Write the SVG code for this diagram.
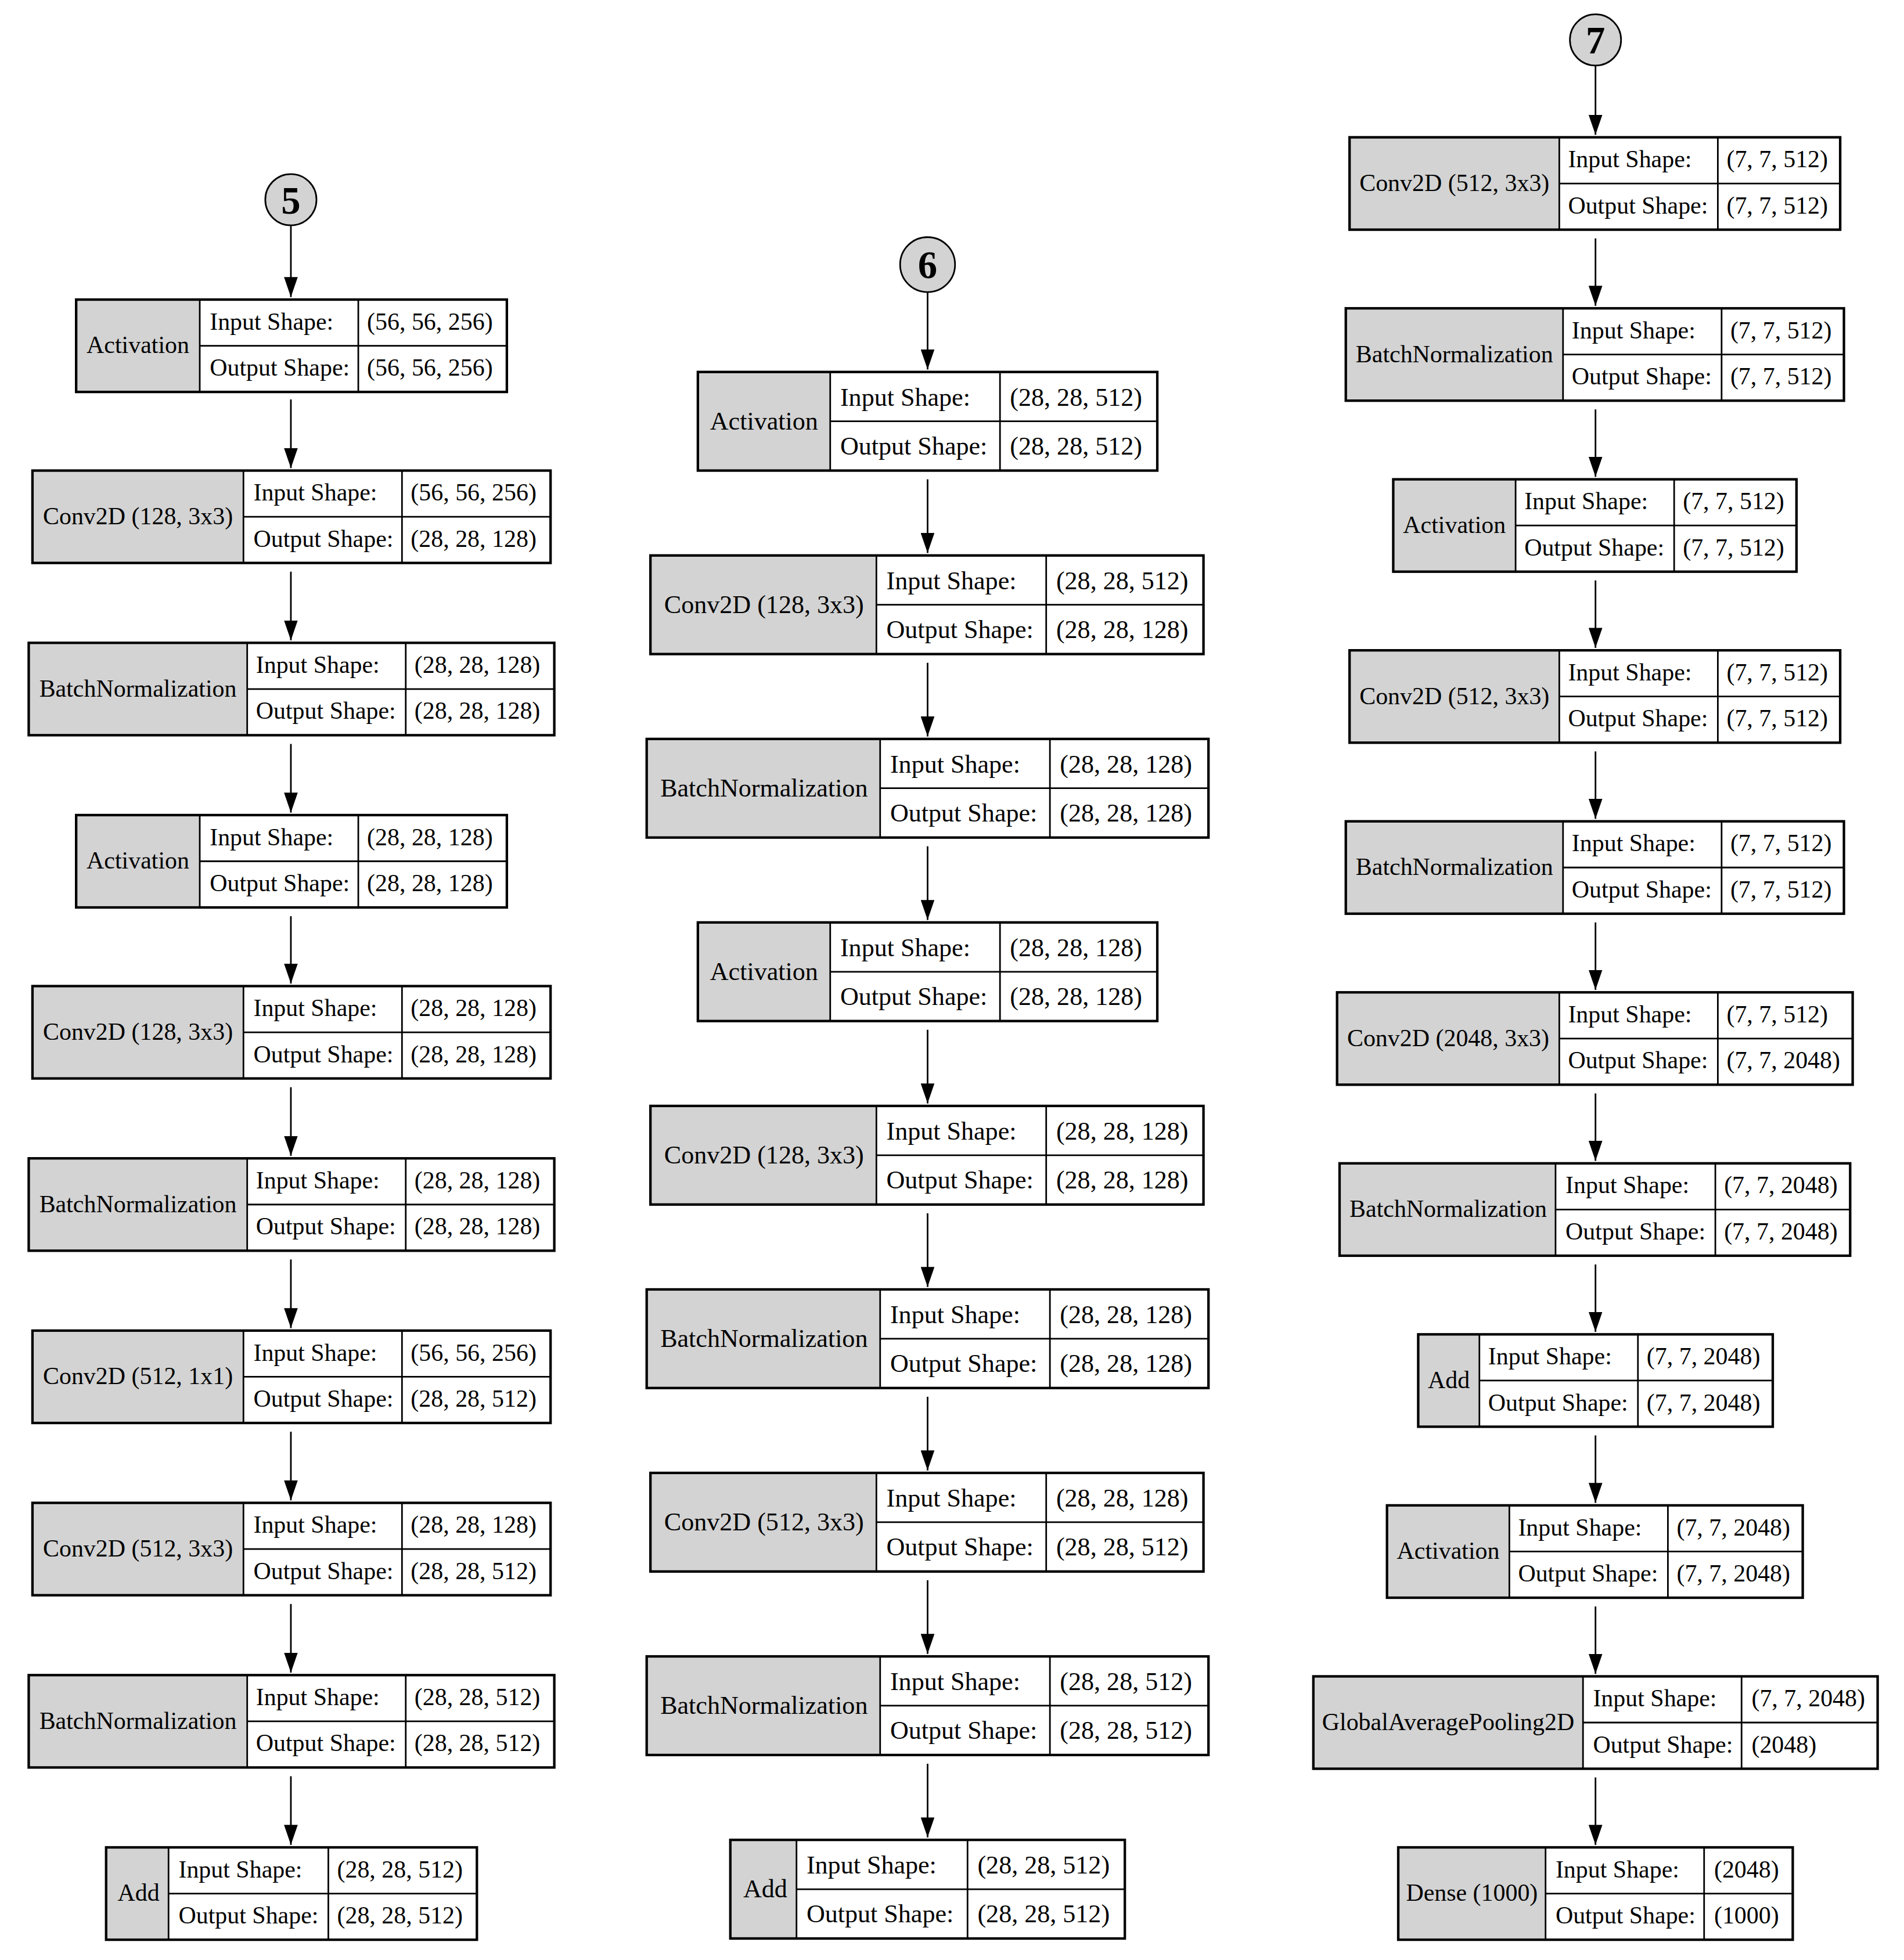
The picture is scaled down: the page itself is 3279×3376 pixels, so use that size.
<svg xmlns="http://www.w3.org/2000/svg" width="3279" height="3376" viewBox="0 0 3279 3376">
<style>
text{font-family:"Liberation Serif","Times New Roman",serif;fill:#000}
.a text{font-size:19.5px}.b text{font-size:20.5px}
.c{text-anchor:middle}
.g{fill:#d3d3d3}.w{fill:#fff}
.o{fill:none;stroke:#000;stroke-width:2}
.i{stroke:#000;stroke-width:1.3}
.e{stroke:#000;stroke-width:1.3;fill:none}
.n{fill:#d3d3d3;stroke:#000;stroke-width:1.3}
.a text.num,.b text.num{font-size:31px;font-weight:bold;text-anchor:middle}
</style>
<defs><marker id="ah" markerUnits="userSpaceOnUse" markerWidth="16" markerHeight="11" refX="16" refY="5.5" orient="auto" viewBox="0 0 16 11"><path d="M0,0 L16,5.5 L0,11 Z" fill="#000"/></marker></defs>
<rect width="3279" height="3376" fill="#fff"/>
<g transform="scale(2.15)">
<g id="connectors">
<line class="e" marker-end="url(#ah)" x1="233" y1="181" x2="233" y2="238"/>
<line class="e" marker-end="url(#ah)" x1="233" y1="320" x2="233" y2="375"/>
<line class="e" marker-end="url(#ah)" x1="233" y1="458" x2="233" y2="513"/>
<line class="e" marker-end="url(#ah)" x1="233" y1="596" x2="233" y2="651"/>
<line class="e" marker-end="url(#ah)" x1="233" y1="734" x2="233" y2="788"/>
<line class="e" marker-end="url(#ah)" x1="233" y1="871" x2="233" y2="926"/>
<line class="e" marker-end="url(#ah)" x1="233" y1="1009" x2="233" y2="1064"/>
<line class="e" marker-end="url(#ah)" x1="233" y1="1147" x2="233" y2="1202"/>
<line class="e" marker-end="url(#ah)" x1="233" y1="1285" x2="233" y2="1340"/>
<line class="e" marker-end="url(#ah)" x1="233" y1="1423" x2="233" y2="1478"/>
<line class="e" marker-end="url(#ah)" x1="743" y1="234" x2="743" y2="296"/>
<line class="e" marker-end="url(#ah)" x1="743" y1="384" x2="743" y2="443"/>
<line class="e" marker-end="url(#ah)" x1="743" y1="531" x2="743" y2="590"/>
<line class="e" marker-end="url(#ah)" x1="743" y1="678" x2="743" y2="737"/>
<line class="e" marker-end="url(#ah)" x1="743" y1="825" x2="743" y2="884"/>
<line class="e" marker-end="url(#ah)" x1="743" y1="972" x2="743" y2="1031"/>
<line class="e" marker-end="url(#ah)" x1="743" y1="1119" x2="743" y2="1178"/>
<line class="e" marker-end="url(#ah)" x1="743" y1="1266" x2="743" y2="1325"/>
<line class="e" marker-end="url(#ah)" x1="743" y1="1413" x2="743" y2="1472"/>
<line class="e" marker-end="url(#ah)" x1="1278" y1="53" x2="1278" y2="108"/>
<line class="e" marker-end="url(#ah)" x1="1278" y1="191" x2="1278" y2="245"/>
<line class="e" marker-end="url(#ah)" x1="1278" y1="328" x2="1278" y2="382"/>
<line class="e" marker-end="url(#ah)" x1="1278" y1="465" x2="1278" y2="519"/>
<line class="e" marker-end="url(#ah)" x1="1278" y1="602" x2="1278" y2="656"/>
<line class="e" marker-end="url(#ah)" x1="1278" y1="739" x2="1278" y2="793"/>
<line class="e" marker-end="url(#ah)" x1="1278" y1="876" x2="1278" y2="930"/>
<line class="e" marker-end="url(#ah)" x1="1278" y1="1013" x2="1278" y2="1067"/>
<line class="e" marker-end="url(#ah)" x1="1278" y1="1150" x2="1278" y2="1204"/>
<line class="e" marker-end="url(#ah)" x1="1278" y1="1287" x2="1278" y2="1341"/>
<line class="e" marker-end="url(#ah)" x1="1278" y1="1424" x2="1278" y2="1478"/>
</g>

<g class="a">
<g id="n5"><circle class="n" cx="233" cy="160" r="20.5"/><text class="num" x="233" y="171">5</text></g>
<g id="c1n1"><rect class="g" x="61" y="240" width="99" height="74"/><rect class="w" x="160" y="240" width="246" height="74"/><line class="i" x1="160" y1="240" x2="160" y2="314"/><line class="i" x1="287" y1="240" x2="287" y2="314"/><line class="i" x1="160" y1="277" x2="406" y2="277"/><rect class="o" x="61" y="240" width="345" height="74"/><text class="c" x="110.5" y="283">Activation</text><text x="168" y="264">Input Shape:</text><text x="168" y="301">Output Shape:</text><text x="294" y="264">(56, 56, 256)</text><text x="294" y="301">(56, 56, 256)</text></g>
<g id="c1n2"><rect class="g" x="26" y="377" width="169" height="74"/><rect class="w" x="195" y="377" width="246" height="74"/><line class="i" x1="195" y1="377" x2="195" y2="451"/><line class="i" x1="322" y1="377" x2="322" y2="451"/><line class="i" x1="195" y1="414" x2="441" y2="414"/><rect class="o" x="26" y="377" width="415" height="74"/><text class="c" x="110.5" y="420">Conv2D (128, 3x3)</text><text x="203" y="401">Input Shape:</text><text x="203" y="438">Output Shape:</text><text x="329" y="401">(56, 56, 256)</text><text x="329" y="438">(28, 28, 128)</text></g>
<g id="c1n3"><rect class="g" x="23" y="515" width="175" height="74"/><rect class="w" x="198" y="515" width="246" height="74"/><line class="i" x1="198" y1="515" x2="198" y2="589"/><line class="i" x1="325" y1="515" x2="325" y2="589"/><line class="i" x1="198" y1="552" x2="444" y2="552"/><rect class="o" x="23" y="515" width="421" height="74"/><text class="c" x="110.5" y="558">BatchNormalization</text><text x="205" y="539">Input Shape:</text><text x="205" y="576">Output Shape:</text><text x="332" y="539">(28, 28, 128)</text><text x="332" y="576">(28, 28, 128)</text></g>
<g id="c1n4"><rect class="g" x="61" y="653" width="99" height="74"/><rect class="w" x="160" y="653" width="246" height="74"/><line class="i" x1="160" y1="653" x2="160" y2="727"/><line class="i" x1="287" y1="653" x2="287" y2="727"/><line class="i" x1="160" y1="690" x2="406" y2="690"/><rect class="o" x="61" y="653" width="345" height="74"/><text class="c" x="110.5" y="696">Activation</text><text x="168" y="677">Input Shape:</text><text x="168" y="714">Output Shape:</text><text x="294" y="677">(28, 28, 128)</text><text x="294" y="714">(28, 28, 128)</text></g>
<g id="c1n5"><rect class="g" x="26" y="790" width="169" height="74"/><rect class="w" x="195" y="790" width="246" height="74"/><line class="i" x1="195" y1="790" x2="195" y2="864"/><line class="i" x1="322" y1="790" x2="322" y2="864"/><line class="i" x1="195" y1="827" x2="441" y2="827"/><rect class="o" x="26" y="790" width="415" height="74"/><text class="c" x="110.5" y="833">Conv2D (128, 3x3)</text><text x="203" y="814">Input Shape:</text><text x="203" y="851">Output Shape:</text><text x="329" y="814">(28, 28, 128)</text><text x="329" y="851">(28, 28, 128)</text></g>
<g id="c1n6"><rect class="g" x="23" y="928" width="175" height="74"/><rect class="w" x="198" y="928" width="246" height="74"/><line class="i" x1="198" y1="928" x2="198" y2="1002"/><line class="i" x1="325" y1="928" x2="325" y2="1002"/><line class="i" x1="198" y1="965" x2="444" y2="965"/><rect class="o" x="23" y="928" width="421" height="74"/><text class="c" x="110.5" y="971">BatchNormalization</text><text x="205" y="952">Input Shape:</text><text x="205" y="989">Output Shape:</text><text x="332" y="952">(28, 28, 128)</text><text x="332" y="989">(28, 28, 128)</text></g>
<g id="c1n7"><rect class="g" x="26" y="1066" width="169" height="74"/><rect class="w" x="195" y="1066" width="246" height="74"/><line class="i" x1="195" y1="1066" x2="195" y2="1140"/><line class="i" x1="322" y1="1066" x2="322" y2="1140"/><line class="i" x1="195" y1="1103" x2="441" y2="1103"/><rect class="o" x="26" y="1066" width="415" height="74"/><text class="c" x="110.5" y="1109">Conv2D (512, 1x1)</text><text x="203" y="1090">Input Shape:</text><text x="203" y="1127">Output Shape:</text><text x="329" y="1090">(56, 56, 256)</text><text x="329" y="1127">(28, 28, 512)</text></g>
<g id="c1n8"><rect class="g" x="26" y="1204" width="169" height="74"/><rect class="w" x="195" y="1204" width="246" height="74"/><line class="i" x1="195" y1="1204" x2="195" y2="1278"/><line class="i" x1="322" y1="1204" x2="322" y2="1278"/><line class="i" x1="195" y1="1241" x2="441" y2="1241"/><rect class="o" x="26" y="1204" width="415" height="74"/><text class="c" x="110.5" y="1247">Conv2D (512, 3x3)</text><text x="203" y="1228">Input Shape:</text><text x="203" y="1265">Output Shape:</text><text x="329" y="1228">(28, 28, 128)</text><text x="329" y="1265">(28, 28, 512)</text></g>
<g id="c1n9"><rect class="g" x="23" y="1342" width="175" height="74"/><rect class="w" x="198" y="1342" width="246" height="74"/><line class="i" x1="198" y1="1342" x2="198" y2="1416"/><line class="i" x1="325" y1="1342" x2="325" y2="1416"/><line class="i" x1="198" y1="1379" x2="444" y2="1379"/><rect class="o" x="23" y="1342" width="421" height="74"/><text class="c" x="110.5" y="1385">BatchNormalization</text><text x="205" y="1366">Input Shape:</text><text x="205" y="1403">Output Shape:</text><text x="332" y="1366">(28, 28, 512)</text><text x="332" y="1403">(28, 28, 512)</text></g>
<g id="c1n10"><rect class="g" x="85" y="1480" width="50" height="74"/><rect class="w" x="135" y="1480" width="247" height="74"/><line class="i" x1="135" y1="1480" x2="135" y2="1554"/><line class="i" x1="263" y1="1480" x2="263" y2="1554"/><line class="i" x1="135" y1="1517" x2="382" y2="1517"/><rect class="o" x="85" y="1480" width="297" height="74"/><text class="c" x="111" y="1523">Add</text><text x="143" y="1504">Input Shape:</text><text x="143" y="1541">Output Shape:</text><text x="270" y="1504">(28, 28, 512)</text><text x="270" y="1541">(28, 28, 512)</text></g>
</g>

<g class="b">
<g id="n6"><circle class="n" cx="743" cy="212" r="22"/><text class="num" x="743" y="223">6</text></g>
<g id="c2n1"><rect class="g" x="559" y="298" width="106" height="79"/><rect class="w" x="665" y="298" width="262" height="79"/><line class="i" x1="665" y1="298" x2="665" y2="377"/><line class="i" x1="801" y1="298" x2="801" y2="377"/><line class="i" x1="665" y1="337.5" x2="927" y2="337.5"/><rect class="o" x="559" y="298" width="368" height="79"/><text class="c" x="612" y="344">Activation</text><text x="673" y="325">Input Shape:</text><text x="673" y="364">Output Shape:</text><text x="809" y="325">(28, 28, 512)</text><text x="809" y="364">(28, 28, 512)</text></g>
<g id="c2n2"><rect class="g" x="521" y="445" width="181" height="79"/><rect class="w" x="702" y="445" width="262" height="79"/><line class="i" x1="702" y1="445" x2="702" y2="524"/><line class="i" x1="838" y1="445" x2="838" y2="524"/><line class="i" x1="702" y1="484.5" x2="964" y2="484.5"/><rect class="o" x="521" y="445" width="443" height="79"/><text class="c" x="612" y="491">Conv2D (128, 3x3)</text><text x="710" y="472">Input Shape:</text><text x="710" y="511">Output Shape:</text><text x="846" y="472">(28, 28, 512)</text><text x="846" y="511">(28, 28, 128)</text></g>
<g id="c2n3"><rect class="g" x="518" y="592" width="187" height="79"/><rect class="w" x="705" y="592" width="263" height="79"/><line class="i" x1="705" y1="592" x2="705" y2="671"/><line class="i" x1="841" y1="592" x2="841" y2="671"/><line class="i" x1="705" y1="631.5" x2="968" y2="631.5"/><rect class="o" x="518" y="592" width="450" height="79"/><text class="c" x="612" y="638">BatchNormalization</text><text x="713" y="619">Input Shape:</text><text x="713" y="658">Output Shape:</text><text x="849" y="619">(28, 28, 128)</text><text x="849" y="658">(28, 28, 128)</text></g>
<g id="c2n4"><rect class="g" x="559" y="739" width="106" height="79"/><rect class="w" x="665" y="739" width="262" height="79"/><line class="i" x1="665" y1="739" x2="665" y2="818"/><line class="i" x1="801" y1="739" x2="801" y2="818"/><line class="i" x1="665" y1="778.5" x2="927" y2="778.5"/><rect class="o" x="559" y="739" width="368" height="79"/><text class="c" x="612" y="785">Activation</text><text x="673" y="766">Input Shape:</text><text x="673" y="805">Output Shape:</text><text x="809" y="766">(28, 28, 128)</text><text x="809" y="805">(28, 28, 128)</text></g>
<g id="c2n5"><rect class="g" x="521" y="886" width="181" height="79"/><rect class="w" x="702" y="886" width="262" height="79"/><line class="i" x1="702" y1="886" x2="702" y2="965"/><line class="i" x1="838" y1="886" x2="838" y2="965"/><line class="i" x1="702" y1="925.5" x2="964" y2="925.5"/><rect class="o" x="521" y="886" width="443" height="79"/><text class="c" x="612" y="932">Conv2D (128, 3x3)</text><text x="710" y="913">Input Shape:</text><text x="710" y="952">Output Shape:</text><text x="846" y="913">(28, 28, 128)</text><text x="846" y="952">(28, 28, 128)</text></g>
<g id="c2n6"><rect class="g" x="518" y="1033" width="187" height="79"/><rect class="w" x="705" y="1033" width="263" height="79"/><line class="i" x1="705" y1="1033" x2="705" y2="1112"/><line class="i" x1="841" y1="1033" x2="841" y2="1112"/><line class="i" x1="705" y1="1072.5" x2="968" y2="1072.5"/><rect class="o" x="518" y="1033" width="450" height="79"/><text class="c" x="612" y="1079">BatchNormalization</text><text x="713" y="1060">Input Shape:</text><text x="713" y="1099">Output Shape:</text><text x="849" y="1060">(28, 28, 128)</text><text x="849" y="1099">(28, 28, 128)</text></g>
<g id="c2n7"><rect class="g" x="521" y="1180" width="181" height="79"/><rect class="w" x="702" y="1180" width="262" height="79"/><line class="i" x1="702" y1="1180" x2="702" y2="1259"/><line class="i" x1="838" y1="1180" x2="838" y2="1259"/><line class="i" x1="702" y1="1219.5" x2="964" y2="1219.5"/><rect class="o" x="521" y="1180" width="443" height="79"/><text class="c" x="612" y="1226">Conv2D (512, 3x3)</text><text x="710" y="1207">Input Shape:</text><text x="710" y="1246">Output Shape:</text><text x="846" y="1207">(28, 28, 128)</text><text x="846" y="1246">(28, 28, 512)</text></g>
<g id="c2n8"><rect class="g" x="518" y="1327" width="187" height="79"/><rect class="w" x="705" y="1327" width="263" height="79"/><line class="i" x1="705" y1="1327" x2="705" y2="1406"/><line class="i" x1="841" y1="1327" x2="841" y2="1406"/><line class="i" x1="705" y1="1366.5" x2="968" y2="1366.5"/><rect class="o" x="518" y="1327" width="450" height="79"/><text class="c" x="612" y="1373">BatchNormalization</text><text x="713" y="1354">Input Shape:</text><text x="713" y="1393">Output Shape:</text><text x="849" y="1354">(28, 28, 512)</text><text x="849" y="1393">(28, 28, 512)</text></g>
<g id="c2n9"><rect class="g" x="585" y="1474" width="53" height="79"/><rect class="w" x="638" y="1474" width="263" height="79"/><line class="i" x1="638" y1="1474" x2="638" y2="1553"/><line class="i" x1="775" y1="1474" x2="775" y2="1553"/><line class="i" x1="638" y1="1513.5" x2="901" y2="1513.5"/><rect class="o" x="585" y="1474" width="316" height="79"/><text class="c" x="613" y="1520">Add</text><text x="646" y="1501">Input Shape:</text><text x="646" y="1540">Output Shape:</text><text x="783" y="1501">(28, 28, 512)</text><text x="783" y="1540">(28, 28, 512)</text></g>
</g>

<g class="a">
<g id="n7"><circle class="n" cx="1278" cy="32" r="20.5"/><text class="num" x="1278" y="43">7</text></g>
<g id="c3n1"><rect class="g" x="1081" y="110" width="168" height="74"/><rect class="w" x="1249" y="110" width="225" height="74"/><line class="i" x1="1249" y1="110" x2="1249" y2="184"/><line class="i" x1="1376" y1="110" x2="1376" y2="184"/><line class="i" x1="1249" y1="147" x2="1474" y2="147"/><rect class="o" x="1081" y="110" width="393" height="74"/><text class="c" x="1165" y="153">Conv2D (512, 3x3)</text><text x="1256" y="134">Input Shape:</text><text x="1256" y="171">Output Shape:</text><text x="1383" y="134">(7, 7, 512)</text><text x="1383" y="171">(7, 7, 512)</text></g>
<g id="c3n2"><rect class="g" x="1078" y="247" width="174" height="74"/><rect class="w" x="1252" y="247" width="225" height="74"/><line class="i" x1="1252" y1="247" x2="1252" y2="321"/><line class="i" x1="1379" y1="247" x2="1379" y2="321"/><line class="i" x1="1252" y1="284" x2="1477" y2="284"/><rect class="o" x="1078" y="247" width="399" height="74"/><text class="c" x="1165" y="290">BatchNormalization</text><text x="1259" y="271">Input Shape:</text><text x="1259" y="308">Output Shape:</text><text x="1386" y="271">(7, 7, 512)</text><text x="1386" y="308">(7, 7, 512)</text></g>
<g id="c3n3"><rect class="g" x="1116" y="384" width="98" height="74"/><rect class="w" x="1214" y="384" width="225" height="74"/><line class="i" x1="1214" y1="384" x2="1214" y2="458"/><line class="i" x1="1341" y1="384" x2="1341" y2="458"/><line class="i" x1="1214" y1="421" x2="1439" y2="421"/><rect class="o" x="1116" y="384" width="323" height="74"/><text class="c" x="1165" y="427">Activation</text><text x="1221" y="408">Input Shape:</text><text x="1348" y="408">(7, 7, 512)</text><text x="1221" y="445">Output Shape:</text><text x="1348" y="445">(7, 7, 512)</text></g>
<g id="c3n4"><rect class="g" x="1081" y="521" width="168" height="74"/><rect class="w" x="1249" y="521" width="225" height="74"/><line class="i" x1="1249" y1="521" x2="1249" y2="595"/><line class="i" x1="1376" y1="521" x2="1376" y2="595"/><line class="i" x1="1249" y1="558" x2="1474" y2="558"/><rect class="o" x="1081" y="521" width="393" height="74"/><text class="c" x="1165" y="564">Conv2D (512, 3x3)</text><text x="1256" y="545">Input Shape:</text><text x="1256" y="582">Output Shape:</text><text x="1383" y="545">(7, 7, 512)</text><text x="1383" y="582">(7, 7, 512)</text></g>
<g id="c3n5"><rect class="g" x="1078" y="658" width="174" height="74"/><rect class="w" x="1252" y="658" width="225" height="74"/><line class="i" x1="1252" y1="658" x2="1252" y2="732"/><line class="i" x1="1379" y1="658" x2="1379" y2="732"/><line class="i" x1="1252" y1="695" x2="1477" y2="695"/><rect class="o" x="1078" y="658" width="399" height="74"/><text class="c" x="1165" y="701">BatchNormalization</text><text x="1259" y="682">Input Shape:</text><text x="1259" y="719">Output Shape:</text><text x="1386" y="682">(7, 7, 512)</text><text x="1386" y="719">(7, 7, 512)</text></g>
<g id="c3n6"><rect class="g" x="1071" y="795" width="178" height="74"/><rect class="w" x="1249" y="795" width="235" height="74"/><line class="i" x1="1249" y1="795" x2="1249" y2="869"/><line class="i" x1="1376" y1="795" x2="1376" y2="869"/><line class="i" x1="1249" y1="832" x2="1484" y2="832"/><rect class="o" x="1071" y="795" width="413" height="74"/><text class="c" x="1160" y="838">Conv2D (2048, 3x3)</text><text x="1256" y="819">Input Shape:</text><text x="1256" y="856">Output Shape:</text><text x="1383" y="819">(7, 7, 512)</text><text x="1383" y="856">(7, 7, 2048)</text></g>
<g id="c3n7"><rect class="g" x="1073" y="932" width="173" height="74"/><rect class="w" x="1246" y="932" width="236" height="74"/><line class="i" x1="1246" y1="932" x2="1246" y2="1006"/><line class="i" x1="1374" y1="932" x2="1374" y2="1006"/><line class="i" x1="1246" y1="969" x2="1482" y2="969"/><rect class="o" x="1073" y="932" width="409" height="74"/><text class="c" x="1160" y="975">BatchNormalization</text><text x="1254" y="956">Input Shape:</text><text x="1254" y="993">Output Shape:</text><text x="1381" y="956">(7, 7, 2048)</text><text x="1381" y="993">(7, 7, 2048)</text></g>
<g id="c3n8"><rect class="g" x="1136" y="1069" width="49" height="74"/><rect class="w" x="1185" y="1069" width="235" height="74"/><line class="i" x1="1185" y1="1069" x2="1185" y2="1143"/><line class="i" x1="1312" y1="1069" x2="1312" y2="1143"/><line class="i" x1="1185" y1="1106" x2="1420" y2="1106"/><rect class="o" x="1136" y="1069" width="284" height="74"/><text class="c" x="1160.5" y="1112">Add</text><text x="1192" y="1093">Input Shape:</text><text x="1192" y="1130">Output Shape:</text><text x="1319" y="1093">(7, 7, 2048)</text><text x="1319" y="1130">(7, 7, 2048)</text></g>
<g id="c3n9"><rect class="g" x="1111" y="1206" width="98" height="74"/><rect class="w" x="1209" y="1206" width="235" height="74"/><line class="i" x1="1209" y1="1206" x2="1209" y2="1280"/><line class="i" x1="1336" y1="1206" x2="1336" y2="1280"/><line class="i" x1="1209" y1="1243" x2="1444" y2="1243"/><rect class="o" x="1111" y="1206" width="333" height="74"/><text class="c" x="1160" y="1249">Activation</text><text x="1216" y="1230">Input Shape:</text><text x="1216" y="1267">Output Shape:</text><text x="1343" y="1230">(7, 7, 2048)</text><text x="1343" y="1267">(7, 7, 2048)</text></g>
<g id="c3n10"><rect class="g" x="1052" y="1343" width="216" height="74"/><rect class="w" x="1268" y="1343" width="236" height="74"/><line class="i" x1="1268" y1="1343" x2="1268" y2="1417"/><line class="i" x1="1395" y1="1343" x2="1395" y2="1417"/><line class="i" x1="1268" y1="1380" x2="1504" y2="1380"/><rect class="o" x="1052" y="1343" width="452" height="74"/><text class="c" x="1160" y="1386">GlobalAveragePooling2D</text><text x="1276" y="1367">Input Shape:</text><text x="1276" y="1404">Output Shape:</text><text x="1403" y="1367">(7, 7, 2048)</text><text x="1403" y="1404">(2048)</text></g>
<g id="c3n11"><rect class="g" x="1120" y="1480" width="118" height="74"/><rect class="w" x="1238" y="1480" width="198" height="74"/><line class="i" x1="1238" y1="1480" x2="1238" y2="1554"/><line class="i" x1="1365" y1="1480" x2="1365" y2="1554"/><line class="i" x1="1238" y1="1517" x2="1436" y2="1517"/><rect class="o" x="1120" y="1480" width="316" height="74"/><text class="c" x="1179" y="1523">Dense (1000)</text><text x="1246" y="1504">Input Shape:</text><text x="1246" y="1541">Output Shape:</text><text x="1373" y="1504">(2048)</text><text x="1373" y="1541">(1000)</text></g>
</g>
</g>
</svg>
